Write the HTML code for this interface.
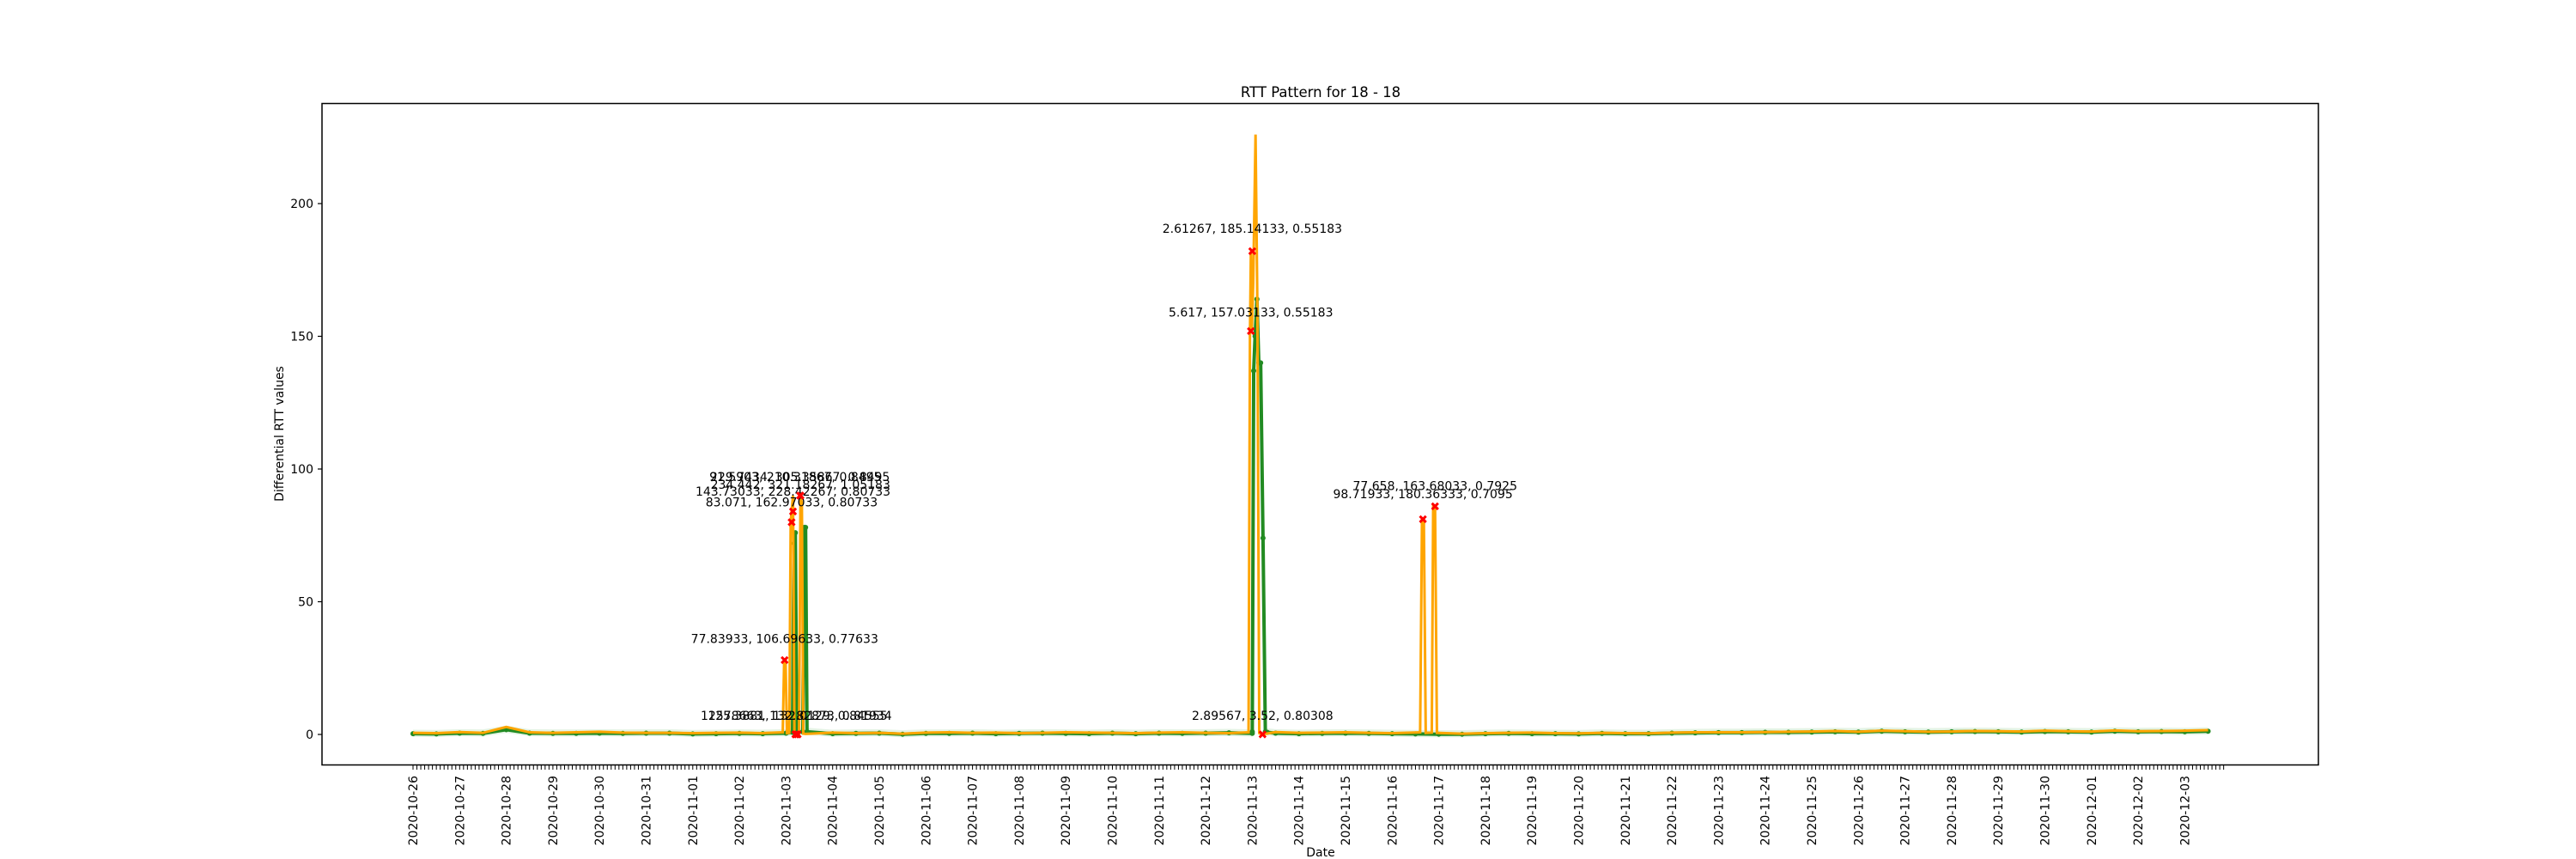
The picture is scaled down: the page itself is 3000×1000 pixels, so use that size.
<!DOCTYPE html>
<html><head><meta charset="utf-8"><style>
html,body{margin:0;padding:0;background:#fff}
svg{display:block;font-family:"DejaVu Sans","Liberation Sans",sans-serif}
</style></head><body>
<svg id="chart" width="3000" height="1000" xmlns="http://www.w3.org/2000/svg">
<rect width="3000" height="1000" fill="#fff"/>
<text x="1538" y="113" font-size="16.5" text-anchor="middle">RTT Pattern for 18 - 18</text>
<text transform="translate(330,505) rotate(-90)" font-size="14" text-anchor="middle">Differential RTT values</text>
<text x="1538" y="997" font-size="14" text-anchor="middle">Date</text>
<g id="fills"></g><g id="lines"></g><g id="marks"></g><g id="ticks"></g>
<rect x="375" y="120.5" width="2325" height="770" fill="none" stroke="#000" stroke-width="1.5"/>
</svg>
<script>
const dateLabels=["2020-10-26","2020-10-27","2020-10-28","2020-10-29","2020-10-30","2020-10-31","2020-11-01","2020-11-02","2020-11-03","2020-11-04","2020-11-05","2020-11-06","2020-11-07","2020-11-08","2020-11-09","2020-11-10","2020-11-11","2020-11-12","2020-11-13","2020-11-14","2020-11-15","2020-11-16","2020-11-17","2020-11-18","2020-11-19","2020-11-20","2020-11-21","2020-11-22","2020-11-23","2020-11-24","2020-11-25","2020-11-26","2020-11-27","2020-11-28","2020-11-29","2020-11-30","2020-12-01","2020-12-02","2020-12-03"];
const yTicks=[0,50,100,150,200];
const orangeBase=[0.6,0.5,0.9,0.6,2.8,0.8,0.6,0.8,1.0,0.7,0.6,0.6,0.5,0.6,0.7,0.5,0.8,0.6,0.7,0.5,0.6,0.3,0.7,0.8,0.6,0.7,0.5,0.6,0.8,0.7,0.6,0.5,0.7,0.8,0.6,0.5,0.8,0.9,0.6,0.7,0.8,0.6,0.5,0.4,0.3,0.3,0.5,0.6,0.7,0.5,0.4,0.6,0.5,0.4,0.7,0.8,0.8,0.8,0.9,1.0,1.1,1.3,1.0,1.4,1.2,1.0,1.1,1.3,1.2,1.1,1.4,1.2,1.1,1.5,1.2,1.3,1.4,1.6];
const greenBase=[0.3,0.2,0.5,0.4,1.8,0.5,0.4,0.4,0.5,0.4,0.5,0.5,0.2,0.3,0.4,0.3,0.5,0.4,0.3,0.4,0.5,0.1,0.4,0.4,0.5,0.3,0.4,0.5,0.4,0.3,0.5,0.3,0.5,0.4,0.5,0.6,0.4,0.5,0.3,0.4,0.5,0.4,0.3,0.2,0.1,0.1,0.3,0.4,0.3,0.3,0.2,0.4,0.3,0.3,0.5,0.6,0.7,0.7,0.8,0.8,0.9,1.0,0.9,1.2,1.0,0.9,1.0,1.1,1.0,0.9,1.1,1.0,0.9,1.2,1.0,1.1,1.0,1.2];
const orangeSpikeDays=[7.93,7.96,7.99,8.02,8.07,8.10,8.12,8.15,8.18,8.21,8.28,8.31,8.34,8.37,8.42,17.92,17.95,17.97,17.99,18.02,18.07,18.11,18.15,18.2,21.6,21.64,21.68,21.72,21.85,21.88,21.92,21.96];
const orangeSpikeVals=[0.8,28,28,0.5,0.6,80,84,90,0.5,0,0.3,90,87,0.3,0.2,0.8,150,182,152,170,226,160,0.5,0,0.8,81,81,0.6,0.7,86,86,0.6];
const greenSpikeDays=[8.14,8.17,8.20,8.23,8.36,8.39,8.42,8.45,18.0,18.03,18.06,18.10,18.14,18.18,18.23,18.28,18.32];
const greenSpikeVals=[0.8,72,76,1,1,78,78,1,1,137,150,164,140,140,74,1,0.8];
const annDays=[7.97,8.12,8.15,8.31,8.30,8.22,18.0,17.97,18.22,21.92,21.66,8.2,8.25];
const annVals=[28,80,84,90,90,0,182,152,0,86,81,0,0];
const annLabels=["77.83933, 106.69633, 0.77633","83.071, 162.97033, 0.80733","143.73033, 228.42267, 0.80733","234.442, 321.18267, 1.05183","229.7434, 305.35867, 0.8495","12578663, 132.82873, 0.81934","2.61267, 185.14133, 0.55183","5.617, 157.03133, 0.55183","2.89567, 3.52, 0.80308","77.658, 163.68033, 0.7925","98.71933, 180.36333, 0.7095","91.5903, 210.31867, 0.8495","125.3881, 132.0129, 0.84555"];
const annTextVals=[34.5,86,90,92.5,95.5,5.5,189,157.5,5.5,92,89,95.5,5.5];

const NS="http://www.w3.org/2000/svg";
const X0=481,PX_DAY=54.3,Y0=855,PX_UNIT=3.09;
function xs(d){return X0+d*PX_DAY;}
function ys(v){return Y0-v*PX_UNIT;}
function mk(tag,attrs,parent){const e=document.createElementNS(NS,tag);for(const k in attrs)e.setAttribute(k,attrs[k]);parent.appendChild(e);return e;}
const G={fills:document.getElementById('fills'),lines:document.getElementById('lines'),marks:document.getElementById('marks'),ticks:document.getElementById('ticks')};

function series(base,sd,sv){
  const pts=[];
  base.forEach((v,i)=>pts.push([i*0.5,v]));
  sd.forEach((d,i)=>pts.push([d,sv[i]]));
  pts.sort((a,b)=>a[0]-b[0]);
  return pts.filter(p=>{
    if(sd.includes(p[0]))return true;
    return !sd.some(d=>Math.abs(d-p[0])<0.12);
  });
}
const og=series(orangeBase,orangeSpikeDays,orangeSpikeVals);
const gg=series(greenBase,greenSpikeDays,greenSpikeVals);

let up=gg.map(p=>xs(p[0])+','+ys(p[1]+1.5)).join(' ');
let dn=gg.slice().reverse().map(p=>xs(p[0])+','+ys(p[1]-1.2)).join(' ');
const band=mk('polygon',{points:up+' '+dn,fill:'#2ca02c','fill-opacity':0.13},G.fills);



const gl=mk('polyline',{points:gg.map(p=>xs(p[0])+','+ys(p[1])).join(' '),fill:'none',stroke:'#228b22','stroke-width':4},G.lines);


gg.forEach(p=>{
  const c=mk('circle',{cx:xs(p[0]),cy:ys(p[1]),r:3,fill:'#228b22'},G.lines);
  
  
});
const ol=mk('polyline',{points:og.map(p=>xs(p[0])+','+ys(p[1])).join(' '),fill:'none',stroke:'#ffa500','stroke-width':3},G.lines);



annDays.forEach((d,i)=>{
  const x=xs(d),y=ys(annVals[i]);
  const m=mk('text',{x:x,y:y+5,'font-size':14,'font-weight':'bold',fill:'#ff0000','text-anchor':'middle'},G.marks);
  m.textContent='✖';
  
  
  const t=mk('text',{x:x,y:ys(annTextVals[i]),'font-size':14,fill:'#000','text-anchor':'middle'},G.marks);
  t.textContent=annLabels[i];
  
  
});

yTicks.forEach(v=>{
  const y=ys(v);
  const l=mk('line',{x1:370,x2:375,y1:y,y2:y,stroke:'#000','stroke-width':1.2},G.ticks);
  
  
  const t=mk('text',{x:365,y:y+5,'font-size':14,'text-anchor':'end'},G.ticks);
  t.textContent=String(v);
  
  
});
for(let h=0;h<=38.9*24;h+=2){
  const x=xs(h/24);
  const l=mk('line',{x1:x,x2:x,y1:890.5,y2:896,stroke:'#000','stroke-width':1},G.ticks);
  
  
}
dateLabels.forEach((s,i)=>{
  const x=xs(i);
  const t=mk('text',{transform:`translate(${x+5},903) rotate(-90)`,'font-size':14,'text-anchor':'end'},G.ticks);
  t.textContent=s;
  
  
});
</script>
</body></html>
